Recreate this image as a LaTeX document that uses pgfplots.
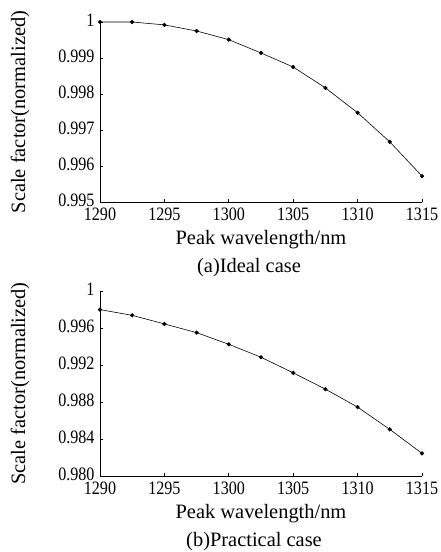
\documentclass[border=0pt]{standalone}
\usepackage{pgfplots}
\pgfplotsset{compat=1.18}
\usepackage{fontspec}
\setmainfont{Liberation Serif}
\newfontfamily\tickfont{Liberation Serif}[FakeStretch=0.85]
\begin{document}
\begin{tikzpicture}
\path[use as bounding box] (0,0) rectangle (441bp,-552bp);
\pgfplotsset{
  myax/.style={
    scale only axis, width=322bp,
    axis lines=left, axis line style={-, line width=0.9pt},
    tick style={black, line width=0.7pt}, major tick length=3bp,
    tick align=inside,
    xmin=1290, xmax=1315, xtick={1290,1295,...,1315},
    /pgf/number format/assume math mode=true,
    /pgf/number format/1000 sep={},
    tick label style={font=\tickfont\fontsize{19}{20}\selectfont},
    label style={font=\fontsize{20.5}{24}\selectfont},
    xlabel={Peak wavelength/nm},
    ylabel={Scale factor(normalized)},
    xlabel style={at={(axis description cs:0.5,0)}, anchor=center, yshift=-38bp},
    ylabel style={at={(axis description cs:-0.248,0.5)}, anchor=center},
    xticklabel style={yshift=-2bp},
    yticklabel style={xshift=-2bp, yshift=2bp},
    clip=false,
  },
  myplot/.style={black, line width=0.6pt, mark=*, mark size=1.8pt},
}
\begin{axis}[myax, at={(100bp,-202bp)}, anchor=south west, height=180bp,
  ymin=0.995, ymax=1.0, ytick={0.995,0.996,0.997,0.998,0.999,1},
  yticklabels={0.995,0.996,0.997,0.998,0.999,1}]
\addplot[myplot] coordinates {
(1290,1.00000) (1292.5,1.00000) (1295,0.99992) (1297.5,0.99975) (1300,0.99951)
(1302.5,0.99914) (1305,0.99875) (1307.5,0.99817) (1310,0.99748) (1312.5,0.99667) (1315,0.99572)};
\node[font=\fontsize{20.5}{24}\selectfont] at (axis description cs:0.5,0) [yshift=-66bp, xshift=-12bp] {(a)Ideal case};
\end{axis}
\begin{axis}[myax, at={(100bp,-476bp)}, anchor=south west, height=185bp,
  ymin=0.980, ymax=1.0, ytick={0.980,0.984,0.988,0.992,0.996,1},
  yticklabels={0.980,0.984,0.988,0.992,0.996,1}]
\addplot[myplot] coordinates {
(1290,0.99799) (1292.5,0.99737) (1295,0.99644) (1297.5,0.99550) (1300,0.99424)
(1302.5,0.99284) (1305,0.99115) (1307.5,0.98939) (1310,0.98745) (1312.5,0.98504) (1315,0.98245)};
\node[font=\fontsize{20.5}{24}\selectfont] at (axis description cs:0.5,0) [yshift=-66bp, xshift=-7bp] {(b)Practical case};
\end{axis}
\end{tikzpicture}
\end{document}
